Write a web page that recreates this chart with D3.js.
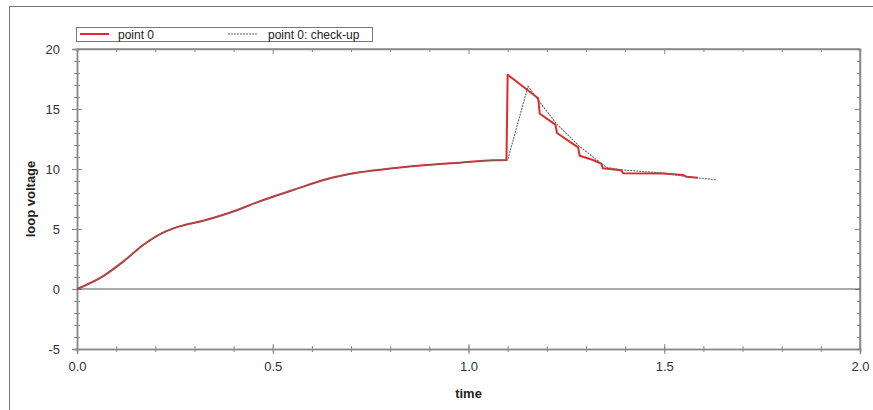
<!DOCTYPE html>
<html><head><meta charset="utf-8">
<script src="https://cdn.jsdelivr.net/npm/d3@7"></script>
<style>body{margin:0;background:#fff;}svg{display:block;font-family:"Liberation Sans",Arial,sans-serif;}</style>
</head><body>
<script>
// ---- data ----
const seriesNames = ["point 0", "point 0: check-up"];
const redTime = [0, 0.067, 0.118, 0.169, 0.22, 0.254, 0.322, 0.39, 0.476, 0.552, 0.637, 0.722, 0.807, 0.893, 0.978, 1.063, 1.097,
  1.10, 1.178, 1.182, 1.222, 1.226, 1.28, 1.284, 1.318, 1.339, 1.343, 1.39, 1.395, 1.497, 1.548, 1.556, 1.586];
const redValue = [0, 1.08, 2.28, 3.67, 4.7, 5.14, 5.69, 6.36, 7.42, 8.25, 9.14, 9.72, 10.06, 10.33, 10.53, 10.72, 10.75,
  17.85, 15.9, 14.6, 13.7, 13.0, 11.8, 11.1, 10.75, 10.45, 10.06, 9.9, 9.64, 9.62, 9.5, 9.36, 9.28];
const grayTime = [0, 0.067, 0.118, 0.169, 0.22, 0.254, 0.322, 0.39, 0.476, 0.552, 0.637, 0.722, 0.807, 0.893, 0.978, 1.063, 1.097,
  1.10, 1.152, 1.178, 1.224, 1.283, 1.352, 1.395, 1.505, 1.556, 1.633];
const grayValue = [0, 1.08, 2.28, 3.67, 4.7, 5.14, 5.69, 6.36, 7.42, 8.25, 9.14, 9.72, 10.06, 10.33, 10.53, 10.72, 10.75,
  10.75, 16.9, 15.75, 13.8, 11.9, 10.14, 9.92, 9.64, 9.36, 9.1];
const xTicks = [0, 0.5, 1.0, 1.5, 2.0];
const yTicks = [-5, 0, 5, 10, 15, 20];
const xLabel = "time", yLabel = "loop voltage";

// ---- layout ----
const W = 873, H = 410;
const svg = d3.select("body").append("svg").attr("width", W).attr("height", H);
const x = d3.scaleLinear().domain([0, 2]).range([77, 860]);
const y = d3.scaleLinear().domain([-5, 20]).range([349, 49]);
const axisCol = "#8a8a8a";
const smoothEnd = 1.0971; // smooth rise region, sharp steps afterwards

// outer frame
svg.append("line").attr("x1", 9.5).attr("x2", W).attr("y1", 6.5).attr("y2", 6.5).attr("stroke", "#777").attr("stroke-width", 1);
svg.append("line").attr("x1", 9.5).attr("x2", 9.5).attr("y1", 6.5).attr("y2", H).attr("stroke", "#777").attr("stroke-width", 1);

const minorX = d3.range(0, 2.0001, 0.1);
const minorY = d3.range(-5, 20.0001, 1);

// bottom axis
const gB = svg.append("g").attr("transform", `translate(0,${y(-5)})`);
gB.call(d3.axisBottom(x).tickValues(minorX).tickSize(3).tickFormat(""));
gB.call(g => g.selectAll(".tick line").attr("y1", -3));
const gB2 = svg.append("g").attr("transform", `translate(0,${y(-5)})`);
gB2.call(d3.axisBottom(x).tickValues(xTicks).tickSize(5).tickPadding(8).tickFormat(d3.format(".1f")));
gB2.call(g => g.selectAll(".tick line").attr("y1", -5));
// top axis
const gT = svg.append("g").attr("transform", `translate(0,${y(20)})`);
gT.call(d3.axisBottom(x).tickValues(minorX).tickSize(3).tickFormat(""));
gT.call(g => g.selectAll(".tick").filter(d => xTicks.some(t => Math.abs(t - d) < 1e-6)).select("line").attr("y2", 5));
// left axis
const gL = svg.append("g").attr("transform", `translate(${x(0)},0)`);
gL.call(d3.axisLeft(y).tickValues(minorY).tickSize(3).tickFormat(""));
gL.call(g => g.selectAll(".tick line").attr("x1", 3));
const gL2 = svg.append("g").attr("transform", `translate(${x(0)},0)`);
gL2.call(d3.axisLeft(y).tickValues(yTicks).tickSize(5).tickPadding(12).tickFormat(d => String(d)));
gL2.call(g => g.selectAll(".tick line").attr("x1", 5));
// right axis
const gR = svg.append("g").attr("transform", `translate(${x(2)},0)`);
gR.call(d3.axisLeft(y).tickValues(minorY).tickSize(3).tickFormat(""));
gR.call(g => g.selectAll(".tick").filter(d => yTicks.includes(d)).select("line").attr("x2", -5));

svg.selectAll(".domain").attr("stroke", axisCol).attr("stroke-width", 1.5);
svg.selectAll(".tick line").attr("stroke", axisCol).attr("stroke-width", 1);
svg.selectAll(".tick text").attr("fill", "#333").attr("font-size", 13).attr("font-family", "Liberation Sans, Arial, sans-serif");
svg.append("line").attr("x1", x(0)).attr("x2", x(2)).attr("y1", y(20)).attr("y2", y(20)).attr("stroke", axisCol).attr("stroke-width", 1.5);
svg.append("line").attr("x1", x(2)).attr("x2", x(2)).attr("y1", y(20)).attr("y2", y(-5)).attr("stroke", axisCol).attr("stroke-width", 1.5);

// zero line
svg.append("line").attr("x1", x(0)).attr("x2", x(2)).attr("y1", y(0)).attr("y2", y(0)).attr("stroke", "#555").attr("stroke-width", 1);

// axis titles
svg.append("text").attr("x", (x(0) + x(2)) / 2).attr("y", 398).attr("text-anchor", "middle")
  .attr("font-weight", "bold").attr("font-size", 13).attr("fill", "#222").text(xLabel);
svg.append("text").attr("transform", `translate(35,${(y(-5) + y(20)) / 2}) rotate(-90)`).attr("text-anchor", "middle")
  .attr("font-weight", "bold").attr("font-size", 13).attr("fill", "#222").text(yLabel);

// lines: smooth (monotone) for the rise, straight segments for the step region
const smooth = d3.line().x(d => x(d[0])).y(d => y(d[1])).curve(d3.curveMonotoneX);
const sharp = d3.line().x(d => x(d[0])).y(d => y(d[1]));
function pathD(data) {
  const a = data.filter(d => d[0] <= smoothEnd);
  const b = data.filter(d => d[0] >= a[a.length - 1][0] - 1e-9);
  return smooth(a) + sharp(b).replace(/^M/, "L");
}
const redData = redTime.map((t, i) => [t, redValue[i]]);
const grayData = grayTime.map((t, i) => [t, grayValue[i]]);
svg.append("path").attr("d", pathD(redData)).attr("fill", "none").attr("stroke", "#e02a2a").attr("stroke-width", 2).attr("stroke-linejoin", "round");
svg.append("path").attr("d", pathD(grayData)).attr("fill", "none").attr("stroke", "#666").attr("stroke-width", 1.1).attr("stroke-dasharray", "2,1");

// legend
const lg = svg.append("g");
lg.append("rect").attr("x", 76.5).attr("y", 27.5).attr("width", 296).attr("height", 14).attr("fill", "#fff").attr("stroke", "#777");
lg.append("line").attr("x1", 80).attr("x2", 109).attr("y1", 34).attr("y2", 34).attr("stroke", "#e02a2a").attr("stroke-width", 2);
lg.append("text").attr("x", 118).attr("y", 38.5).attr("font-size", 12).attr("fill", "#222").text(seriesNames[0]);
lg.append("line").attr("x1", 228).attr("x2", 258).attr("y1", 34).attr("y2", 34).attr("stroke", "#666").attr("stroke-width", 1.1).attr("stroke-dasharray", "2,1");
lg.append("text").attr("x", 268).attr("y", 38.5).attr("font-size", 12).attr("fill", "#222").text(seriesNames[1]);
</script>
</body></html>
